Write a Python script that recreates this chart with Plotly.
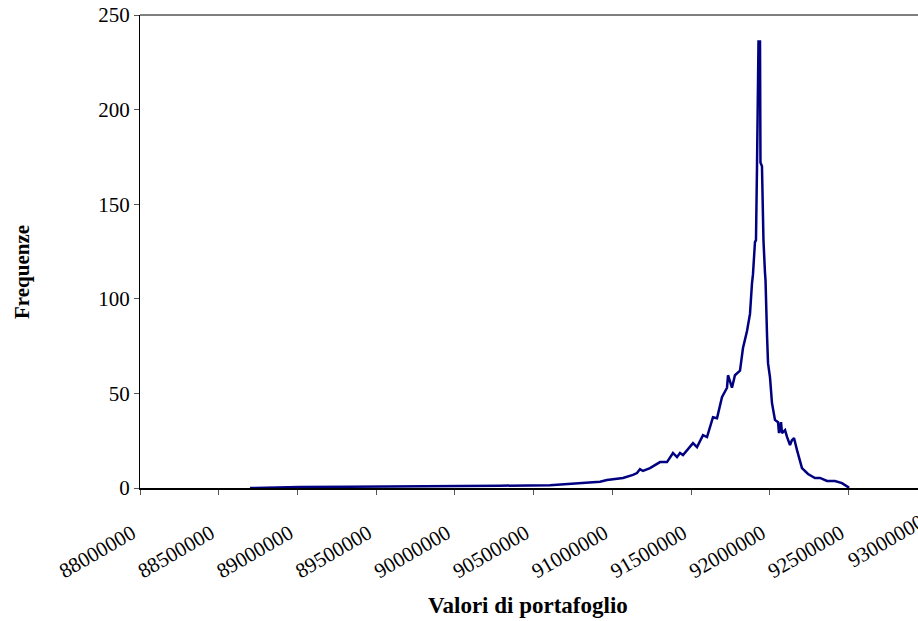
import math
import plotly.graph_objects as go

# Portfolio values (x) and frequencies (y)
valori = [
    88698500, 88825500, 89016000, 89333500, 89651000, 89968500, 90095500,
    90286000, 90603500, 90711000, 90857500, 90921000, 90965500, 91067000,
    91130500, 91156000, 91175000, 91194000, 91238500, 91302000, 91346500,
    91384500, 91410000, 91429000, 91448000, 91480000, 91511500, 91537000,
    91575000, 91600500, 91638500, 91664000, 91695500, 91727500, 91734000,
    91759000, 91778000, 91810000, 91829000, 91854500, 91873500, 91886000,
    91892500, 91905000, 91911500, 91918000, 91927500, 91937000, 91940000,
    91949500, 91956000, 91959000, 91968500, 91972000, 91981500, 91988000,
    92000500, 92013000, 92032000, 92051500, 92057500, 92070500, 92076500,
    92096000, 92108500, 92127500, 92140000, 92153000, 92172000, 92203500,
    92242000, 92286000, 92318000, 92362500, 92413000, 92457500, 92496000,
    92502000,
]
frequenze = [
    0, 0.3, 0.5, 0.7, 0.8, 0.8, 1.0,
    1.2, 1.5, 2.0, 2.8, 3.3, 4.2, 5.3,
    6.9, 7.9, 10.0, 9.0, 10.5, 13.7, 13.7,
    18.5, 16.3, 18.5, 17.4, 20.6, 23.7, 21.6,
    27.9, 26.9, 37.4, 36.9, 48.0, 53.0, 59.6,
    53.0, 59.6, 62.0, 74.0, 83.0, 92.0, 108.0,
    113.0, 130.0, 131.0, 170.0, 236.0, 236.0, 172.0,
    170.0, 140.0, 131.0, 114.0, 110.0, 81.0, 66.0,
    58.5, 45.0, 36.0, 34.8, 29.0, 34.8, 29.0,
    30.6, 27.0, 22.7, 25.3, 26.4, 20.0, 10.5,
    7.4, 5.3, 5.3, 3.7, 3.7, 2.6, 0.5,
    0,
]

x_ticks = [88000000 + 500000 * i for i in range(10)]
x_ticktext = [str(v) for v in x_ticks]
last_tick_value = 93000000
last_tick_label = "93000000"
y_ticks = [0, 50, 100, 150, 200, 250]

FONT = "Liberation Serif"
W, H = 918, 621
L, R, T, B = 140, 0, 15, 133
PLOT_W, PLOT_H = W - L - R, H - T - B
PX_PER_STEP = 78.74
x_min = 88000000
x_max = 88000000 + PLOT_W * 500000 / PX_PER_STEP
Y_FS = 21
X_FS = 21
ANGLE = -30
STANDOFF = 18
SHIFT = -8

# position of the (clipped) last tick label, continuing the axis beyond the edge
last_px = L + (last_tick_value - x_min) / 500000 * PX_PER_STEP + SHIFT
half_len = 0.5 * 8 * 0.5 * X_FS
cx = last_px - half_len * math.cos(math.radians(-ANGLE)) + 3
cy = 488 + 14 + STANDOFF + half_len * math.sin(math.radians(-ANGLE))

fig = go.Figure()
fig.add_trace(go.Scatter(
    x=valori, y=frequenze, mode="lines",
    line=dict(color="#000080", width=2.5),
    hoverinfo="x+y", showlegend=False,
))

fig.update_layout(
    width=W, height=H,
    margin=dict(l=L, r=R, t=T, b=B),
    paper_bgcolor="white", plot_bgcolor="white",
    font=dict(family=FONT, color="black", size=Y_FS),
    xaxis=dict(
        range=[x_min, x_max], automargin=False,
        tickmode="array", tickvals=x_ticks, ticktext=x_ticktext,
        tickangle=ANGLE, ticklabelstandoff=STANDOFF, ticklabelshift=SHIFT,
        ticks="outside", ticklen=5, tickcolor="#555555",
        showline=True, linecolor="black", linewidth=2,
        showgrid=False, zeroline=False,
        tickfont=dict(family=FONT, size=X_FS),
    ),
    yaxis=dict(
        range=[0, 250], automargin=False,
        tickmode="array", tickvals=y_ticks,
        ticks="outside", ticklen=5, tickcolor="#555555",
        showline=True, linecolor="black", linewidth=1,
        showgrid=False, zeroline=False,
        tickfont=dict(family=FONT, size=Y_FS),
    ),
    shapes=[dict(type="line", xref="paper", yref="paper",
                 x0=0, x1=1, y0=1, y1=1,
                 line=dict(color="black", width=1))],
    annotations=[
        dict(text=last_tick_label, xref="paper", yref="paper",
             x=(cx - L) / PLOT_W, y=(488 - cy) / PLOT_H,
             xanchor="center", yanchor="middle", textangle=ANGLE,
             showarrow=False, font=dict(family=FONT, size=X_FS)),
        dict(text="<b>Valori di portafoglio</b>", xref="paper", yref="paper",
             x=(528 - L) / PLOT_W, y=(488 - 605) / PLOT_H,
             xanchor="center", yanchor="middle", showarrow=False,
             font=dict(family=FONT, size=23)),
        dict(text="<b>Frequenze</b>", xref="paper", yref="paper",
             x=(22 - L) / PLOT_W, y=(488 - 272) / PLOT_H,
             xanchor="center", yanchor="middle", textangle=-90,
             showarrow=False, font=dict(family=FONT, size=21)),
    ],
)

fig.write_html("out.html")
